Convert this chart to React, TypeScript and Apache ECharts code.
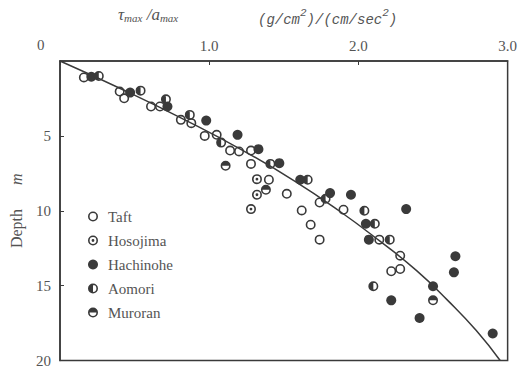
import React, { useEffect, useRef } from "react";
import * as echarts from "echarts";

// Fitted curve: depth (m) and tau/amax
const curveDepth = [0, 2, 4, 6, 8, 10, 12, 14, 16, 18, 20];
const curveTau = [0, 0.44, 0.85, 1.23, 1.57, 1.87, 2.14, 2.39, 2.6, 2.79, 2.95];

// Observed points [tau/amax, depth]
const taft = [
  [0.16, 1.1], [0.4, 2.04], [0.43, 2.49], [0.61, 3.04], [0.67, 3.04], [0.81, 3.93],
  [0.88, 4.15], [0.97, 5.0], [1.05, 4.93], [1.14, 5.98], [1.2, 6.04], [1.28, 5.98],
  [1.28, 6.87], [1.4, 7.93], [1.52, 8.87], [1.62, 9.98], [1.68, 10.93], [1.74, 11.93],
  [1.74, 9.45], [1.9, 9.93], [2.14, 11.93], [2.28, 13.0], [2.22, 14.04], [2.28, 13.89],
];
const hosojima = [[1.32, 7.89], [1.32, 8.93], [1.28, 9.89]];
const hachinohe = [
  [0.21, 1.05], [0.47, 2.11], [0.72, 3.04], [0.98, 3.98], [1.19, 4.93], [1.33, 5.89],
  [1.47, 6.82], [1.61, 7.93], [1.81, 8.82], [1.95, 8.93], [2.05, 10.87], [2.07, 11.93],
  [2.32, 9.89], [2.22, 15.98], [2.5, 15.04], [2.41, 17.16], [2.65, 13.04], [2.64, 14.11],
  [2.9, 18.2],
];
const aomori = [
  [0.26, 1.0], [0.54, 1.98], [0.71, 2.56], [0.87, 3.6], [1.08, 5.45], [1.41, 6.87],
  [1.66, 7.93], [1.78, 9.2], [2.04, 10.0], [2.11, 10.87], [2.21, 11.93], [2.1, 15.04],
];
const muroran = [[1.11, 7.0], [1.38, 8.6], [2.5, 15.98]];

const xTicks = [0, 1, 2, 3];
const yTicks = [0, 5, 10, 15, 20];

const INK = "#3a3a3a";
const TEXT = "#545454";
const SERIF = "'Liberation Serif', 'DejaVu Serif', serif";
const MONO = "'Liberation Mono', 'DejaVu Sans Mono', monospace";

const RING =
  "M10 0A10 10 0 1 1 10 20A10 10 0 1 1 10 0Z M10 3.2A6.8 6.8 0 1 0 10 16.8A6.8 6.8 0 1 0 10 3.2Z";
const SYM_TAFT = "path://" + RING;
const SYM_HOSO = "path://" + RING + " M10 7.2A2.8 2.8 0 1 1 10 12.8A2.8 2.8 0 1 1 10 7.2Z";
const SYM_AOMORI = "path://" + RING + " M10 20A10 10 0 0 1 10 0Z";
const SYM_MURORAN = "path://" + RING + " M0 10A10 10 0 0 1 20 10Z";

export default function App() {
  const ref = useRef<HTMLDivElement>(null);
  useEffect(() => {
    if (!ref.current) return;
    const chart = echarts.init(ref.current, null, { renderer: "svg" });
    const curve = curveDepth.map((d, i) => [curveTau[i], d]);
    const scatter = (name: string, data: number[][], symbol: string) => ({
      name,
      type: "scatter",
      data,
      symbol,
      symbolSize: 10,
      itemStyle: { color: INK, opacity: 1 },
      z: 3,
    });
    chart.setOption({
      animation: false,
      backgroundColor: "#ffffff",
      textStyle: { fontFamily: SERIF },
      grid: {
        left: 58,
        right: 11,
        top: 61,
        bottom: 7,
        show: true,
        borderColor: INK,
        borderWidth: 1.5,
      },
      xAxis: {
        type: "value",
        position: "top",
        min: xTicks[0],
        max: xTicks[xTicks.length - 1],
        interval: 1,
        axisLine: { show: true, lineStyle: { color: INK, width: 1.5 } },
        axisTick: { show: true, inside: true, length: 4, lineStyle: { color: INK } },
        splitLine: { show: false },
        axisLabel: {
          margin: 8,
          color: TEXT,
          fontSize: 15,
          fontFamily: SERIF,
          formatter: (v: number) => (v === 0 ? "" : v.toFixed(1)),
        },
      },
      yAxis: {
        type: "value",
        inverse: true,
        min: yTicks[0],
        max: yTicks[yTicks.length - 1],
        interval: 5,
        axisLine: { show: true, lineStyle: { color: INK, width: 1.5 } },
        axisTick: { show: true, inside: true, length: 4, lineStyle: { color: INK } },
        splitLine: { show: false },
        axisLabel: {
          margin: 9,
          color: TEXT,
          fontSize: 15,
          fontFamily: SERIF,
          formatter: (v: number) => (v === 0 ? "" : String(v)),
        },
        name: "{a|Depth}        {b|m}",
        nameLocation: "middle",
        nameRotate: 90,
        nameGap: 36,
        nameTextStyle: {
          rich: {
            a: { fontSize: 16, color: TEXT, fontFamily: SERIF },
            b: { fontSize: 16, color: TEXT, fontFamily: SERIF, fontStyle: "italic" },
          },
        },
      },
      legend: {
        orient: "vertical",
        left: 83,
        top: 203,
        itemWidth: 10,
        itemHeight: 10,
        itemGap: 7,
        textStyle: { color: TEXT, fontSize: 15, fontFamily: SERIF, lineHeight: 17, padding: [0, 0, 0, 5] },
        data: ["Taft", "Hosojima", "Hachinohe", "Aomori", "Muroran"],
      },
      graphic: [
        {
          type: "text",
          left: 37,
          top: 37,
          style: { text: "0", fill: TEXT, font: "15px " + SERIF },
        },
        {
          type: "text",
          left: 118,
          top: 6,
          style: {
            text: "{t|τ}{s|max}{t| /a}{s|max}",
            fill: TEXT,
            rich: {
              t: { fontSize: 17, fontStyle: "italic", fontFamily: SERIF, fill: TEXT, lineHeight: 22, verticalAlign: "bottom" },
              s: { fontSize: 11, fontStyle: "italic", fontFamily: SERIF, fill: TEXT, lineHeight: 11, verticalAlign: "bottom" },
            },
          },
        },
        {
          type: "text",
          left: 258,
          top: 7,
          style: {
            text: "{t|(g/cm}{p|2}{t|)/(cm/sec}{p|2}{t|)}",
            fill: TEXT,
            rich: {
              t: { fontSize: 14, fontStyle: "italic", fontFamily: MONO, fill: TEXT, lineHeight: 20, verticalAlign: "bottom" },
              p: { fontSize: 11, fontStyle: "italic", fontFamily: MONO, fill: TEXT, lineHeight: 12, verticalAlign: "top" },
            },
          },
        },
      ],
      series: [
        {
          name: "curve",
          type: "line",
          data: curve,
          smooth: true,
          showSymbol: false,
          lineStyle: { color: INK, width: 1.5 },
          z: 2,
        },
        scatter("Taft", taft, SYM_TAFT),
        scatter("Hosojima", hosojima, SYM_HOSO),
        scatter("Hachinohe", hachinohe, "circle"),
        scatter("Aomori", aomori, SYM_AOMORI),
        scatter("Muroran", muroran, SYM_MURORAN),
      ],
    });
    return () => chart.dispose();
  }, []);
  return <div ref={ref} style={{ width: 520, height: 368, position: "absolute", left: 0, top: 0 }} />;
}
